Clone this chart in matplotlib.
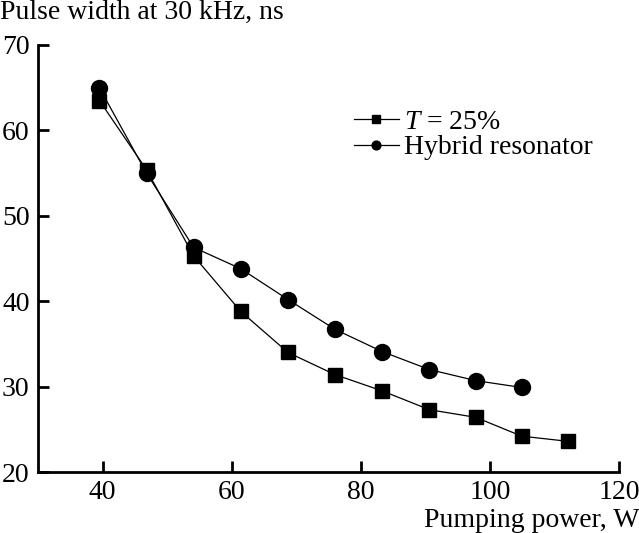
import matplotlib.pyplot as plt
import numpy as np

plt.rcParams['font.family'] = ['Liberation Serif', 'DejaVu Serif']
plt.rcParams['mathtext.fontset'] = 'custom'
plt.rcParams['mathtext.it'] = 'Liberation Serif:italic'
plt.rcParams['mathtext.rm'] = 'Liberation Serif'

power_sq = [39.5, 46.8, 54.1, 61.4, 68.7, 76.0, 83.3, 90.6, 97.8, 104.9, 112.0]
width_sq = [63.5, 55.4, 45.3, 38.8, 34.0, 31.4, 29.5, 27.3, 26.4, 24.2, 23.6]

power_ci = [39.5, 46.8, 54.1, 61.4, 68.7, 76.0, 83.3, 90.6, 97.8, 104.9]
width_ci = [65.0, 55.0, 46.3, 43.8, 40.2, 36.7, 34.1, 32.0, 30.7, 29.9]

fig = plt.figure(figsize=(6.39, 5.33), dpi=100)
ax = fig.add_axes([0.0595, 0.1144, 0.9095, 0.8012])

ax.plot(power_sq, width_sq, color='black', lw=0.9, marker='s', ms=10.5,
        label='$T$ = 25%')
ax.plot(power_ci, width_ci, color='black', lw=0.9, marker='o', ms=11.5,
        label='Hybrid resonator')

ax.set_xlim(30, 120)
ax.set_ylim(20, 70)
ax.set_xticks([40, 60, 80, 100, 120])
ax.set_yticks([20, 30, 40, 50, 60, 70])
ax.spines['top'].set_visible(False)
ax.spines['right'].set_visible(False)
ax.spines['left'].set_linewidth(2)
ax.spines['bottom'].set_linewidth(2)
ax.tick_params(direction='in', length=8, width=2, labelsize=20)
ax.tick_params(axis='x', pad=6)
ax.tick_params(axis='y', pad=6)

fig.text(0.0, 1.0, 'Pulse width at 30 kHz, ns', fontsize=20, va='top', ha='left')
fig.text(1.0, 0.0, 'Pumping power, W', fontsize=20, va='bottom', ha='right')

leg = ax.legend(loc='upper left', bbox_to_anchor=(0.525, 0.875), frameon=False,
                fontsize=20, markerscale=0.55, handlelength=1.6,
                handletextpad=0.2, labelspacing=0.0, borderaxespad=0)

fig.savefig('out.png', dpi=100)
